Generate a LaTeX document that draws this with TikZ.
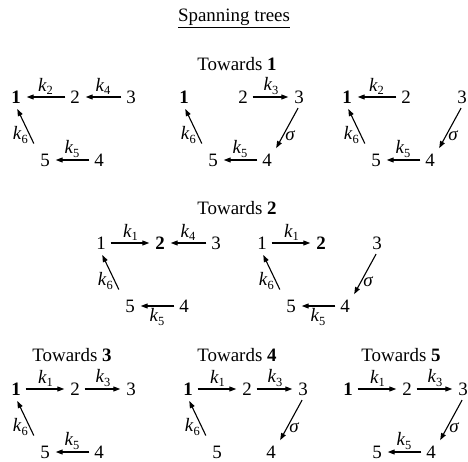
\documentclass[tikz,border=0pt]{standalone}
\usepackage{fontspec}
\setmainfont{Liberation Serif}
\usetikzlibrary{arrows.meta}
\newcommand\kk[1]{\textit{k}\raisebox{-0.45ex}{\fontsize{12.5}{12.5}\selectfont #1}}
\newcommand\sg{\textit{σ}}
\newcommand\gnodes[8]{%
  \node[vx] (#1-1) at (#2,#3) {#4};
  \node[vx] (#1-2) at (#2+59,#3) {#5};
  \node[vx] (#1-3) at (#2+115,#3) {#6};
  \node[vx] (#1-4) at (#2+83,#3+63) {#7};
  \node[vx] (#1-5) at (#2+29,#3+63) {#8};
}
\tikzset{
  vx/.style={inner sep=3bp, outer sep=0pt},
  arr/.style={-{Triangle[length=7bp,width=5bp]}, line width=1.1bp, shorten >=3bp, shorten <=2bp},
  lab/.style={inner sep=1.5bp},
  diag/.style={arr, shorten <=8bp},
  ttl/.style={inner sep=0pt},
}
\begin{document}
\begin{tikzpicture}[x=1bp, y=-1bp, font=\fontsize{19}{22}\selectfont]
\useasboundingbox (0,0) rectangle (468,462);
\node[ttl] (title) at (234,18) {\underline{Spanning trees}};
\node[ttl] (t1) at (237,64) {Towards \textbf{1}};
\node[ttl] (t2) at (237,208) {Towards \textbf{2}};
\node[ttl] (t3) at (72,355) {Towards \textbf{3}};
\node[ttl] (t4) at (237,355) {Towards \textbf{4}};
\node[ttl] (t5) at (401,355) {Towards \textbf{5}};
% Row 1
\gnodes{a}{16}{97}{\textbf{1}}{2}{3}{4}{5}
\draw[arr] (a-2) -- node[above,lab]{\kk2} (a-1);
\draw[arr] (a-3) -- node[above,lab]{\kk4} (a-2);
\draw[arr] (a-4) -- node[above,lab]{\kk5} (a-5);
\draw[diag] (a-5.north west) -- node[left,pos=0.35,lab]{\kk6} (a-1.south);
\gnodes{b}{184}{97}{\textbf{1}}{2}{3}{4}{5}
\draw[arr] (b-2) -- node[above,lab]{\kk3} (b-3);
\draw[arr] (b-3.south) -- node[right,pos=0.65,lab]{\sg} (b-4.north east);
\draw[arr] (b-4) -- node[above,lab]{\kk5} (b-5);
\draw[diag] (b-5.north west) -- node[left,pos=0.35,lab]{\kk6} (b-1.south);
\gnodes{c}{347}{97}{\textbf{1}}{2}{3}{4}{5}
\draw[arr] (c-2) -- node[above,lab]{\kk2} (c-1);
\draw[arr] (c-3.south) -- node[right,pos=0.65,lab]{\sg} (c-4.north east);
\draw[arr] (c-4) -- node[above,lab]{\kk5} (c-5);
\draw[diag] (c-5.north west) -- node[left,pos=0.35,lab]{\kk6} (c-1.south);
% Row 2
\gnodes{d}{101}{243}{1}{\textbf{2}}{3}{4}{5}
\draw[arr] (d-1) -- node[above,lab]{\kk1} (d-2);
\draw[arr] (d-3) -- node[above,lab]{\kk4} (d-2);
\draw[arr] (d-4) -- node[below,lab]{\kk5} (d-5);
\draw[diag] (d-5.north west) -- node[left,pos=0.35,lab]{\kk6} (d-1.south);
\gnodes{e}{262}{243}{1}{\textbf{2}}{3}{4}{5}
\draw[arr] (e-1) -- node[above,lab]{\kk1} (e-2);
\draw[arr] (e-3.south) -- node[right,pos=0.65,lab]{\sg} (e-4.north east);
\draw[arr] (e-4) -- node[below,lab]{\kk5} (e-5);
\draw[diag] (e-5.north west) -- node[left,pos=0.35,lab]{\kk6} (e-1.south);
% Row 3
\gnodes{f}{16}{389}{\textbf{1}}{2}{3}{4}{5}
\draw[arr] (f-1) -- node[above,lab]{\kk1} (f-2);
\draw[arr] (f-2) -- node[above,lab]{\kk3} (f-3);
\draw[arr] (f-4) -- node[above,lab]{\kk5} (f-5);
\draw[diag] (f-5.north west) -- node[left,pos=0.35,lab]{\kk6} (f-1.south);
\gnodes{g}{188}{389}{\textbf{1}}{2}{3}{4}{5}
\draw[arr] (g-1) -- node[above,lab]{\kk1} (g-2);
\draw[arr] (g-2) -- node[above,lab]{\kk3} (g-3);
\draw[arr] (g-3.south) -- node[right,pos=0.65,lab]{\sg} (g-4.north east);
\draw[diag] (g-5.north west) -- node[left,pos=0.35,lab]{\kk6} (g-1.south);
\gnodes{h}{348}{389}{\textbf{1}}{2}{3}{4}{5}
\draw[arr] (h-1) -- node[above,lab]{\kk1} (h-2);
\draw[arr] (h-2) -- node[above,lab]{\kk3} (h-3);
\draw[arr] (h-3.south) -- node[right,pos=0.65,lab]{\sg} (h-4.north east);
\draw[arr] (h-4) -- node[above,lab]{\kk5} (h-5);
\end{tikzpicture}
\end{document}
